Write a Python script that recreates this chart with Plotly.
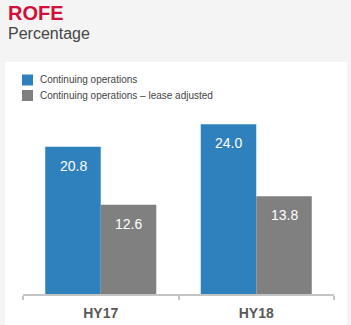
import plotly.graph_objects as go

# Data
categories = ["HY17", "HY18"]
continuing = [20.8, 24.0]
lease_adjusted = [12.6, 13.8]
series_names = ["Continuing operations", "Continuing operations \u2013 lease adjusted"]
series_colors = ["#2f81bd", "#808080"]

W, H = 351, 325
ML, MR, MT, MB = 23, 17, 110, 31
PW, PH = W - ML - MR, H - MT - MB
FONT = "Arial, Liberation Sans, sans-serif"


def px_x(px):
    return (px - ML) / PW


def px_y(py):
    return (H - MB - py) / PH


fig = go.Figure()
for name, vals, col in zip(series_names, [continuing, lease_adjusted], series_colors):
    fig.add_trace(go.Bar(
        x=categories, y=vals, name=name, marker=dict(color=col, line=dict(width=0)),
        showlegend=False, hoverinfo="skip",
    ))

annotations = []
shapes = []

# value labels inside the top of each bar
for i, vals in enumerate([continuing, lease_adjusted]):
    for j, v in enumerate(vals):
        annotations.append(dict(
            x=j, y=v, xref="x", yref="y", text=f"{v:.1f}", showarrow=False,
            xshift=(-1 if i == 0 else 1) * 27.75, yshift=-19, yanchor="middle",
            font=dict(family=FONT, size=14, color="#ffffff"),
        ))

# white card behind the chart
shapes.append(dict(
    type="rect", xref="paper", yref="paper", layer="below",
    x0=px_x(5), x1=px_x(347), y0=px_y(325), y1=px_y(62),
    fillcolor="#ffffff", line=dict(width=0),
))

# legend drawn as swatches + labels
legend_rows = [80, 95.5]
for name, col, cy in zip(series_names, series_colors, legend_rows):
    shapes.append(dict(
        type="rect", xref="paper", yref="paper",
        x0=px_x(22), x1=px_x(33), y0=px_y(cy + 5.5), y1=px_y(cy - 5.5),
        fillcolor=col, line=dict(width=0),
    ))
    annotations.append(dict(
        x=px_x(38), y=px_y(cy), xref="paper", yref="paper", text=name,
        showarrow=False, xanchor="left", yanchor="middle",
        font=dict(family=FONT, size=10, color="#444444"),
    ))

# title and subtitle
annotations.append(dict(
    x=px_x(6), y=px_y(13), xref="paper", yref="paper", text="<b>ROFE</b>",
    showarrow=False, xanchor="left", yanchor="middle",
    font=dict(family=FONT, size=20, color="#d0103a"),
))
annotations.append(dict(
    x=px_x(6), y=px_y(34), xref="paper", yref="paper", text="Percentage",
    showarrow=False, xanchor="left", yanchor="middle",
    font=dict(family=FONT, size=16, color="#444444"),
))

fig.update_layout(
    width=W, height=H,
    margin=dict(l=ML, r=MR, t=MT, b=MB, pad=0, autoexpand=False),
    paper_bgcolor="#f4f4f4", plot_bgcolor="rgba(0,0,0,0)",
    barmode="group", bargap=0.286, bargroupgap=0,
    annotations=annotations, shapes=shapes,
    font=dict(family=FONT),
)
fig.update_xaxes(
    range=[-0.5, 1.5], tickson="boundaries", ticks="outside", ticklen=4,
    tickwidth=2, tickcolor="#c4c4c4", showline=True, linecolor="#c4c4c4",
    linewidth=2, showgrid=False, zeroline=False, ticklabelstandoff=5,
    automargin=False,
    tickfont=dict(family=FONT, size=14, color="#585858"),
    tickvals=categories, ticktext=[f"<b>{c}</b>" for c in categories],
)
fig.update_yaxes(range=[0, 26.0], visible=False, showgrid=False, zeroline=False,
                 automargin=False)

fig.write_html("out.html")
